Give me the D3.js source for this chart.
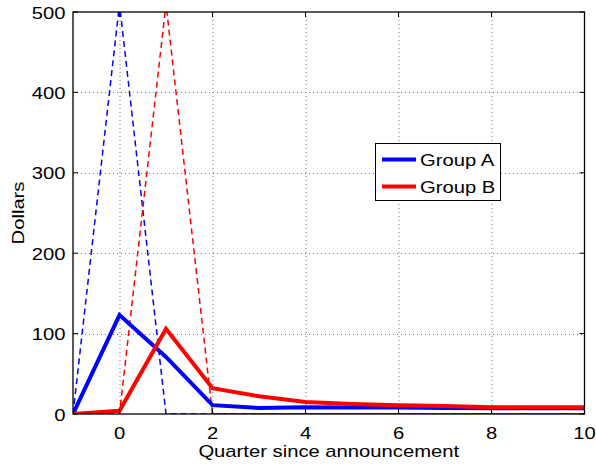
<!DOCTYPE html>
<html><head><meta charset="utf-8">
<script src="https://cdn.jsdelivr.net/npm/d3@7/dist/d3.min.js"></script>
<style>body{margin:0;background:#fff}svg{display:block}text{font-family:"Liberation Sans",Arial,sans-serif;fill:#000}</style>
</head><body>
<svg id="c" width="596" height="465"></svg>
<script>
const quarters = [-1,0,1,2,3,4,5,6,7,8,9,10];
const groupA = [0,123,71,11,7.5,8.5,8,8,7.5,7,7,7];
const groupB = [0,4,106,32,22,15,12.5,11,10,8.5,8.5,8.5];
const groupADashed = [0,510,0,0,0,0,0,0,0,0,0,0];
const groupBDashed = [0,0,510,0,0,0,0,0,0,0,0,0];
const xTicks = [0,2,4,6,8,10];
const yTicks = [0,100,200,300,400,500];
const seriesNames = ["Group A","Group B"];

const svg = d3.select("#c");
const L=73, R=584.5, T=12, B=414;
const SX = 1.19, FS = 17;
const x = d3.scaleLinear().domain([-1,10]).range([L,R]);
const y = d3.scaleLinear().domain([0,500]).range([B,T]);

function txt(parent, tx, ty, s, anchor, rot){
  return parent.append("text")
    .attr("transform", `translate(${tx},${ty})` + (rot?` rotate(${rot})`:"") + ` scale(${SX},1)`)
    .attr("text-anchor", anchor).attr("font-size", FS).text(s);
}

svg.append("defs").append("clipPath").attr("id","clip")
  .append("rect").attr("x",L).attr("y",T).attr("width",R-L).attr("height",B-T);

// grid
const g = svg.append("g");
g.selectAll(".gx").data(xTicks.filter(d=>d<10)).enter().append("line")
  .attr("x1",d=>x(d)+0.5).attr("x2",d=>x(d)+0.5).attr("y1",T).attr("y2",B)
  .attr("stroke","#777").attr("stroke-width",1).attr("stroke-dasharray","1,3");
g.selectAll(".gy").data(yTicks.filter(d=>d>0&&d<500)).enter().append("line")
  .attr("y1",d=>Math.round(y(d))+0.5).attr("y2",d=>Math.round(y(d))+0.5).attr("x1",L).attr("x2",R)
  .attr("stroke","#777").attr("stroke-width",1).attr("stroke-dasharray","1,3");

const line = d3.line().x((d,i)=>x(quarters[i])).y(d=>y(d));
const plot = svg.append("g").attr("clip-path","url(#clip)");
plot.append("path").datum(groupADashed).attr("d",line).attr("fill","none")
  .attr("stroke","#0000ff").attr("stroke-width",1.5).attr("stroke-dasharray","6,4");
plot.append("path").datum(groupBDashed).attr("d",line).attr("fill","none")
  .attr("stroke","#ff0000").attr("stroke-width",1.5).attr("stroke-dasharray","6,4").attr("stroke-dashoffset",5);
plot.append("path").datum(groupA).attr("d",line).attr("fill","none")
  .attr("stroke","#0000ff").attr("stroke-width",4).attr("stroke-linejoin","miter");
plot.append("path").datum(groupB).attr("d",line).attr("fill","none")
  .attr("stroke","#ff0000").attr("stroke-width",4).attr("stroke-linejoin","miter");

// axes box
const ax = svg.append("g");
ax.append("rect").attr("x",L).attr("y",T).attr("width",R-L).attr("height",B-T)
  .attr("fill","none").attr("stroke","#000").attr("stroke-width",1.3);
const tl = 5;
xTicks.forEach(d=>{
  ax.append("line").attr("x1",x(d)).attr("x2",x(d)).attr("y1",B).attr("y2",B-tl).attr("stroke","#000");
  ax.append("line").attr("x1",x(d)).attr("x2",x(d)).attr("y1",T).attr("y2",T+tl).attr("stroke","#000");
  txt(ax, x(d), 439, d, "middle");
});
yTicks.forEach(d=>{
  ax.append("line").attr("y1",y(d)).attr("y2",y(d)).attr("x1",L).attr("x2",L+tl).attr("stroke","#000");
  ax.append("line").attr("y1",y(d)).attr("y2",y(d)).attr("x1",R).attr("x2",R-tl).attr("stroke","#000");
  txt(ax, 65.5, y(d)+6.5, d, "end");
});
txt(ax, (L+R)/2, 457, "Quarter since announcement", "middle");
txt(ax, 24, (T+B)/2, "Dollars", "middle", -90);

// legend
const lg = svg.append("g");
lg.append("rect").attr("x",375.5).attr("y",143.5).attr("width",125).attr("height",57)
  .attr("fill","#fff").attr("stroke","#000").attr("stroke-width",1);
const colors = ["#0000ff","#ff0000"];
seriesNames.forEach((n,i)=>{
  const yy = 159.5 + i*27;
  lg.append("line").attr("x1",382).attr("x2",416).attr("y1",yy).attr("y2",yy)
    .attr("stroke",colors[i]).attr("stroke-width",4);
  txt(lg, 420, yy+6, n, "start");
});
</script>
</body></html>
